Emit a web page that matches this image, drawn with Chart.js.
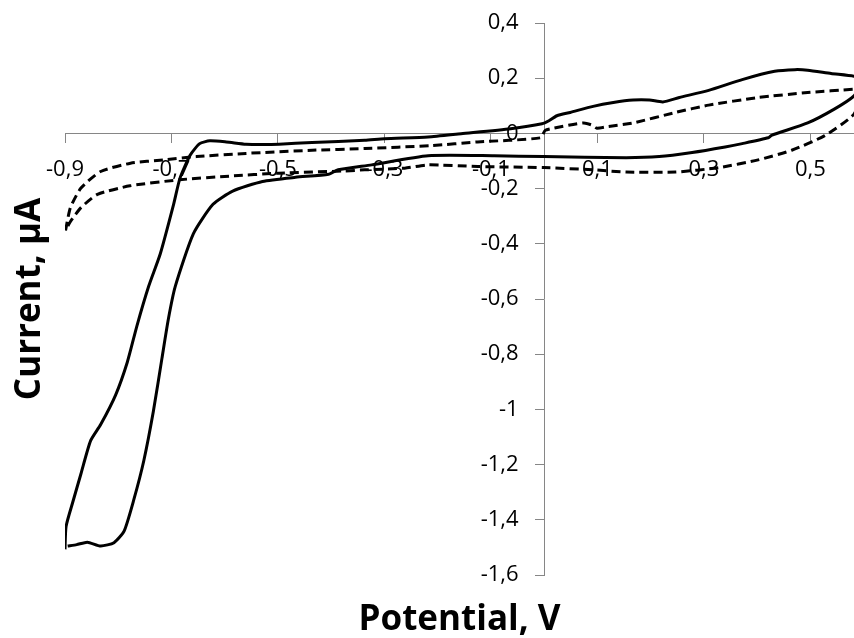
<!DOCTYPE html>
<html>
<head>
<meta charset="utf-8">
<title>Cyclic voltammogram</title>
<script src="https://cdn.jsdelivr.net/npm/chart.js@4/dist/chart.umd.min.js"></script>
<style>
  html, body { margin: 0; padding: 0; background: #fff; }
  #myChart { display: block; }
</style>
</head>
<body>
<canvas id="myChart" width="854" height="638"></canvas>
<script>
// potential (V), current (µA) pairs, in scan order
var solidLoop = [
  [-0.9, -1.507], [-0.898, -1.424], [-0.886, -1.34], [-0.87, -1.233], [-0.852, -1.114],
  [-0.833, -1.055], [-0.805, -0.948], [-0.783, -0.829], [-0.765, -0.698], [-0.743, -0.555],
  [-0.721, -0.436], [-0.696, -0.257], [-0.684, -0.162], [-0.665, -0.079],
  [-0.647, -0.037], [-0.628, -0.027], [-0.597, -0.031], [-0.56, -0.039], [-0.529, -0.04],
  [-0.498, -0.039], [-0.436, -0.033], [-0.337, -0.025], [-0.3, -0.019], [-0.218, -0.013],
  [-0.156, -0.001], [-0.063, 0.017], [-0.004, 0.035], [0.009, 0.046], [0.024, 0.064],
  [0.049, 0.076], [0.092, 0.098], [0.13, 0.112], [0.167, 0.121], [0.198, 0.121],
  [0.223, 0.114], [0.254, 0.13], [0.309, 0.156], [0.372, 0.195], [0.433, 0.225],
  [0.471, 0.231], [0.495, 0.229], [0.539, 0.217], [0.582, 0.207], [0.6, 0.195],
  [0.582, 0.136], [0.545, 0.088], [0.495, 0.038], [0.427, -0.007], [0.421, -0.016],
  [0.372, -0.037], [0.34, -0.049], [0.278, -0.069], [0.216, -0.084], [0.154, -0.088],
  [-0.001, -0.084], [-0.094, -0.081], [-0.218, -0.081], [-0.324, -0.114], [-0.387, -0.132],
  [-0.405, -0.148], [-0.467, -0.159], [-0.529, -0.174], [-0.585, -0.209], [-0.622, -0.257],
  [-0.659, -0.364], [-0.693, -0.555], [-0.706, -0.674], [-0.718, -0.816], [-0.734, -1.007],
  [-0.752, -1.186], [-0.771, -1.329], [-0.789, -1.441], [-0.808, -1.483], [-0.833, -1.495],
  [-0.858, -1.481], [-0.878, -1.49], [-0.895, -1.495],
];

var dashedLoop = [
  [-0.899, -0.352], [-0.89, -0.27], [-0.87, -0.198], [-0.833, -0.138], [-0.777, -0.108],
  [-0.715, -0.096], [-0.653, -0.084], [-0.56, -0.0725], [-0.436, -0.061], [-0.337, -0.055],
  [-0.212, -0.044], [-0.125, -0.031], [-0.007, -0.016], [0.002, 0.011], [0.018, 0.019],
  [0.074, 0.038], [0.09, 0.03], [0.099, 0.019], [0.12, 0.025], [0.167, 0.038],
  [0.247, 0.076], [0.309, 0.1025], [0.402, 0.13], [0.495, 0.148], [0.582, 0.16],
  [0.6, 0.163],
  [0.582, 0.07], [0.527, -0.008], [0.465, -0.061], [0.402, -0.096], [0.328, -0.124],
  [0.247, -0.14], [0.154, -0.14], [0.092, -0.132], [-0.001, -0.124], [-0.125, -0.12],
  [-0.218, -0.114], [-0.262, -0.126], [-0.337, -0.132], [-0.374, -0.136], [-0.498, -0.144],
  [-0.592, -0.155], [-0.685, -0.168], [-0.778, -0.19], [-0.839, -0.221], [-0.87, -0.269],
  [-0.89, -0.32], [-0.899, -0.352],
];

var xTickValues = [-0.9, -0.7, -0.5, -0.3, -0.1, 0.1, 0.3, 0.5];
var yTickValues = [0.4, 0.2, 0, -0.2, -0.4, -0.6, -0.8, -1, -1.2, -1.4, -1.6];

var axisColor = "#868686";
var xMin = -0.9;
var xMax = 0.582;
var yMin = -1.6;
var yMax = 0.4;

function toPoints(pairs) {
  return pairs.map((p) => ({ x: p[0], y: p[1] }));
}

// decimal comma, no trailing zeros
function commaLabel(v) {
  return String(Math.round(v * 10) / 10).replace(".", ",");
}

function setTicks(values) {
  return (scale) => {
    scale.ticks = values.map((v) => ({ value: v }));
  };
}

Chart.defaults.font.family = "'Open Sans', sans-serif";
Chart.defaults.color = "#000";

var ctx = document.getElementById("myChart").getContext("2d");
var cvChart = new Chart(ctx, {
  type: "line",
  data: {
    datasets: [
      {
        data: toPoints(solidLoop),
        borderColor: "#000",
        borderWidth: 3,
        pointRadius: 0,
        tension: 0.2,
      },
      {
        data: toPoints(dashedLoop),
        borderColor: "#000",
        borderWidth: 3,
        borderDash: [9, 5],
        pointRadius: 0,
        tension: 0.2,
      },
    ],
  },
  options: {
    responsive: false,
    animation: false,
    layout: { padding: { left: 0, top: 23, right: 0, bottom: 0 } },
    plugins: {
      legend: { display: false },
      tooltip: { enabled: false },
    },
    scales: {
      x: {
        type: "linear",
        position: { y: 0 },
        min: xMin,
        max: xMax,
        afterBuildTicks: setTicks(xTickValues),
        ticks: {
          callback: (v) => commaLabel(v),
          font: { size: 22 },
          padding: 14,
          maxRotation: 0,
          autoSkip: false,
        },
        grid: {
          drawOnChartArea: false,
          drawTicks: true,
          tickLength: 9,
          color: axisColor,
        },
        border: { display: true, color: axisColor, width: 1 },
      },
      // vertical axis line and tick marks through x = 0
      y: {
        type: "linear",
        position: { x: 0 },
        min: yMin,
        max: yMax,
        afterBuildTicks: setTicks(yTickValues),
        ticks: { display: false },
        grid: {
          drawOnChartArea: false,
          drawTicks: true,
          tickLength: 9,
          color: axisColor,
        },
        border: { display: true, color: axisColor, width: 1 },
      },
      // its labels, set a little left of the tick marks
      yLabels: {
        axis: "y",
        type: "linear",
        position: { x: -0.048 },
        min: yMin,
        max: yMax,
        afterBuildTicks: setTicks(yTickValues),
        ticks: {
          callback: (v) => commaLabel(v),
          font: { size: 22 },
          autoSkip: false,
        },
        grid: { display: false },
        border: { display: false },
      },
      // outer scales that only carry the axis titles
      xTitle: {
        axis: "x",
        type: "linear",
        position: "bottom",
        display: true,
        ticks: { display: false },
        grid: { display: false },
        border: { display: false },
        title: {
          display: true,
          text: "Potential, V",
          font: { size: 35, weight: "bold", lineHeight: 1 },
          padding: { top: 20, bottom: 0 },
        },
      },
      yTitle: {
        axis: "y",
        type: "linear",
        position: "left",
        display: true,
        ticks: { display: false },
        grid: { display: false },
        border: { display: false },
        title: {
          display: true,
          text: "Current, µA",
          font: { size: 35, weight: "bold", lineHeight: 1 },
          padding: { top: 13, bottom: 9 },
        },
      },
    },
  },
});
</script>
</body>
</html>
